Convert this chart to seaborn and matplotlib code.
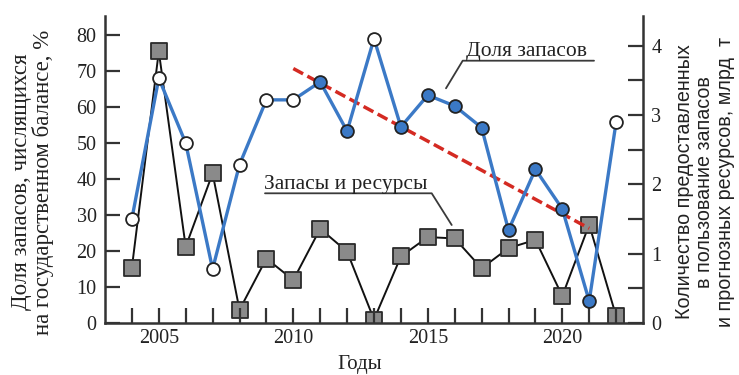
import matplotlib
matplotlib.use("Agg")
import matplotlib.pyplot as plt
import pandas as pd
import seaborn as sns
from matplotlib.ticker import MultipleLocator
from matplotlib.lines import Line2D

# --- data -------------------------------------------------------------
years = list(range(2004, 2023))
share_pct = [29, 68, 50, 15, 44, 62, 62, 67, 53.3, 79, 54.5, 63.3, 60.3,
             54.3, 25.8, 42.7, 31.7, 6.1, 55.8]
share_filled = [False, False, False, False, False, False, False, True, True,
                False, True, True, True, True, True, True, True, True, False]
reserves_bt = [0.80, 3.92, 1.10, 2.16, 0.19, 0.93, 0.62, 1.36, 1.03, 0.05,
               0.96, 1.24, 1.22, 0.79, 1.08, 1.20, 0.39, 1.42, 0.10]
trend_years = [2010, 2021]
trend_pct = [70.7, 26.3]

xtick_years = [2005, 2010, 2015, 2020]

df = pd.DataFrame({"year": years, "share": share_pct,
                   "filled": share_filled, "reserves": reserves_bt})
trend = pd.DataFrame({"year": trend_years, "share": trend_pct})

# --- style ------------------------------------------------------------
sns.set_theme(style="ticks")
plt.rcParams["font.family"] = ["Liberation Serif", "DejaVu Serif"]

BLUE = "#3b79c6"
DARK = "#333333"
RED = "#d42a22"
GREY = "#8a8a8a"
TEXT = "#222222"

W, H = 739, 375
fig = plt.figure(figsize=(W / 100, H / 100), dpi=100)
L, R, T, B = 105, 643, 16, 323
ax = fig.add_axes([L / W, 1 - B / H, (R - L) / W, (B - T) / H])
ax2 = ax.twinx()

# reserves & resources (right axis)
sns.lineplot(data=df, x="year", y="reserves", ax=ax2, color="#111111",
             linewidth=1.4, zorder=2)
sns.scatterplot(data=df, x="year", y="reserves", ax=ax2, marker="s", s=120,
                color=GREY, edgecolor="#2a2a2a", linewidth=1.3, zorder=3)

# share of reserves (left axis), drawn above the right-axis series
ax.set_zorder(ax2.get_zorder() + 1)
ax.patch.set_visible(False)
sns.lineplot(data=trend, x="year", y="share", ax=ax, color=RED,
             linewidth=2.5, zorder=2)
ax.lines[-1].set_dashes([3.2, 1.4])
sns.lineplot(data=df, x="year", y="share", ax=ax, color=BLUE,
             linewidth=2.4, zorder=3)
open_pts = df[~df["filled"]]
full_pts = df[df["filled"]]
sns.scatterplot(data=open_pts, x="year", y="share", ax=ax, s=85,
                color="white", edgecolor="#222222", linewidth=1.3, zorder=4)
sns.scatterplot(data=full_pts, x="year", y="share", ax=ax, s=85,
                color=BLUE, edgecolor="#222222", linewidth=1.3, zorder=4)

# --- axes -------------------------------------------------------------
ax.set_xlim(2003, 2023)
ax.set_ylim(0, 85.3)
ax2.set_ylim(0, 4.43)

ax.set_xticks(years)
ax.set_xticklabels([str(y) if y in xtick_years else "" for y in years])
ax.yaxis.set_major_locator(MultipleLocator(10))
ax2.yaxis.set_major_locator(MultipleLocator(1))
ax2.yaxis.set_minor_locator(MultipleLocator(0.5))

for a in (ax, ax2):
    a.set_xlabel("")
    a.set_ylabel("")
    a.tick_params(axis="both", which="both", direction="in", length=11,
                  width=1.6, color=DARK, labelsize=14.5, labelcolor=TEXT,
                  pad=6)
    for side in ("left", "right", "bottom"):
        a.spines[side].set_color(DARK)
        a.spines[side].set_linewidth(1.8)
    a.spines["top"].set_visible(False)
ax.spines["right"].set_visible(False)
ax2.spines["left"].set_visible(False)
ax2.spines["bottom"].set_visible(False)
ax.tick_params(axis="x", pad=4)

# --- labels -----------------------------------------------------------
fig.text(32.5 / W, 1 - 182 / H,
         "Доля запасов, числящихся\nна государственном балансе, %",
         rotation=90, ha="center", va="center", fontsize=16.5,
         color=TEXT, linespacing=1.05)
fig.text(705 / W, 1 - 182 / H,
         "Количество предоставленных\nв пользование запасов\n"
         "и прогнозных ресурсов, млрд  т",
         rotation=90, ha="center", va="center", fontsize=14.2,
         family=["Liberation Sans", "DejaVu Sans"],
         color=TEXT, linespacing=1.12)
fig.text(360 / W, 1 - 364 / H, "Годы", ha="center", va="center",
         fontsize=15, color=TEXT)

# series captions with leader lines (pixel positions)
def px(xp, yp):
    return xp / W, 1 - yp / H

fig.text(*px(527, 56), "Доля запасов", ha="center", va="baseline",
         fontsize=15.5, color=TEXT)
fig.add_artist(Line2D(*zip(px(446, 88.3), px(462.7, 60.7), px(594, 60.7)),
                      color="#3a3a3a", linewidth=1.3))

fig.text(*px(346, 189), "Запасы и ресурсы", ha="center", va="baseline",
         fontsize=15.5, color=TEXT)
fig.add_artist(Line2D(*zip(px(265, 193.3), px(431.7, 193.3), px(451.7, 225)),
                      color="#3a3a3a", linewidth=1.3))

fig.savefig("out.png", dpi=100)
